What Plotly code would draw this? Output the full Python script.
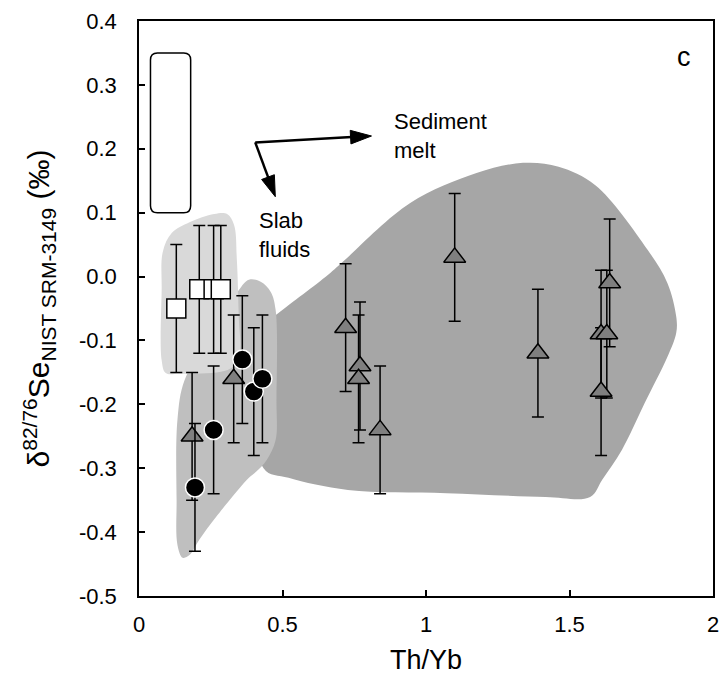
import plotly.graph_objects as go

# ---- data ----
sq_x = [0.13, 0.21, 0.26, 0.285]
sq_y = [-0.05, -0.02, -0.02, -0.02]
sq_err = [0.10, 0.10, 0.10, 0.10]

tri_x = [0.185, 0.33, 0.72, 0.77, 0.765, 0.84, 1.10, 1.39, 1.61, 1.63, 1.64, 1.61]
tri_y = [-0.25, -0.16, -0.08, -0.14, -0.16, -0.24, 0.03, -0.12, -0.09, -0.09, -0.01, -0.18]
tri_err = [0.10] * 12

cir_x = [0.195, 0.26, 0.36, 0.40, 0.43]
cir_y = [-0.33, -0.24, -0.13, -0.18, -0.16]
cir_err = [0.10, 0.10, 0.10, 0.10, 0.10]

# shaded fields (outline points in data units)
light_x = [0.083, 0.114, 0.176, 0.262, 0.307, 0.331, 0.341, 0.348, 0.352, 0.334, 0.297, 0.141, 0.093, 0.079, 0.079]
light_y = [0.039, 0.068, 0.085, 0.098, 0.098, 0.081, 0.026, -0.068, -0.115, -0.138, -0.148, -0.152, -0.151, -0.131, -0.021]

med_x = [0.348, 0.383, 0.424, 0.459, 0.476, 0.479, 0.476, 0.445, 0.407, 0.383, 0.269, 0.210, 0.176, 0.152, 0.134, 0.131, 0.134, 0.159, 0.245]
med_y = [-0.021, -0.005, -0.008, -0.024, -0.052, -0.193, -0.256, -0.287, -0.306, -0.315, -0.376, -0.412, -0.436, -0.440, -0.420, -0.350, -0.224, -0.162, -0.099]

dark_x = [0.434, 0.486, 0.659, 0.717, 0.945, 1.176, 1.338, 1.462, 1.590, 1.772, 1.841, 1.872, 1.872, 1.841, 1.762, 1.683, 1.614, 1.572, 1.417, 1.072, 0.728, 0.521, 0.434]
dark_y = [-0.076, -0.057, 0.003, 0.026, 0.115, 0.162, 0.178, 0.172, 0.143, 0.042, -0.010, -0.063, -0.088, -0.126, -0.198, -0.271, -0.318, -0.345, -0.345, -0.339, -0.334, -0.315, -0.300]

# open range box
box_x = [0.04, 0.18]
box_y = [0.10, 0.35]

# arrows
arrow_corner = [0.405, 0.21]
sediment_tip = [0.81, 0.22]
slab_tip = [0.475, 0.125]

x_ticks = [0, 0.5, 1, 1.5, 2]
y_ticks = [0.4, 0.3, 0.2, 0.1, 0.0, -0.1, -0.2, -0.3, -0.4, -0.5]

FONT = "Liberation Sans, Arial, sans-serif"

fig = go.Figure()

for xs, ys, col in [(dark_x, dark_y, "#a6a6a6"), (med_x, med_y, "#bfbfbf"), (light_x, light_y, "#d9d9d9")]:
    fig.add_trace(go.Scatter(
        x=xs + [xs[0]], y=ys + [ys[0]], mode="lines", fill="toself",
        fillcolor=col, line=dict(color=col, width=0, shape="spline", smoothing=1.0),
        hoverinfo="skip", showlegend=False))

err_style = dict(type="data", color="black", thickness=1.5, width=6)

fig.add_trace(go.Scatter(
    x=sq_x, y=sq_y, mode="markers", showlegend=False,
    error_y=dict(array=sq_err, **err_style),
    marker=dict(symbol="square", size=19, color="white", line=dict(color="black", width=1.5))))

fig.add_trace(go.Scatter(
    x=tri_x, y=tri_y, mode="markers", showlegend=False,
    error_y=dict(array=tri_err, **err_style),
    marker=dict(symbol="triangle-up", size=19, color="#7f7f7f", line=dict(color="black", width=1.5))))

fig.add_trace(go.Scatter(
    x=cir_x, y=cir_y, mode="markers", showlegend=False,
    error_y=dict(array=cir_err, **err_style),
    marker=dict(symbol="circle", size=19, color="black", line=dict(color="white", width=1.5))))

# arrows (line + arrow-head marker at the tip)
for tip in (sediment_tip, slab_tip):
    fig.add_trace(go.Scatter(
        x=[arrow_corner[0], tip[0]], y=[arrow_corner[1], tip[1]],
        mode="lines+markers", showlegend=False, hoverinfo="skip",
        line=dict(color="black", width=2.5),
        marker=dict(symbol="arrow", size=[0, 22], angleref="previous",
                    color="black", opacity=1, line=dict(color="black", width=1))))

# rounded box
rx, ry = 0.024, 0.011
x0, x1 = box_x
y0, y1 = box_y
path = (f"M {x0+rx},{y0} L {x1-rx},{y0} Q {x1},{y0} {x1},{y0+ry} "
        f"L {x1},{y1-ry} Q {x1},{y1} {x1-rx},{y1} L {x0+rx},{y1} "
        f"Q {x0},{y1} {x0},{y1-ry} L {x0},{y0+ry} Q {x0},{y0} {x0+rx},{y0} Z")
fig.add_shape(type="path", path=path, line=dict(color="black", width=1.5), fillcolor="white")

fig.add_annotation(x=0.883, y=0.22, xref="x", yref="y", text="Sediment<br>melt",
                   showarrow=False, xanchor="left", yanchor="middle", align="left",
                   font=dict(family=FONT, size=22, color="black"))
fig.add_annotation(x=0.41, y=0.065, xref="x", yref="y", text="Slab<br>fluids",
                   showarrow=False, xanchor="left", yanchor="middle", align="left",
                   font=dict(family=FONT, size=22, color="black"))
fig.add_annotation(x=1.9, y=0.344, xref="x", yref="y", text="c",
                   showarrow=False, xanchor="center", yanchor="middle",
                   font=dict(family=FONT, size=27, color="black"))

fig.update_layout(
    width=728, height=683,
    margin=dict(l=139, r=9, t=21, b=87),
    paper_bgcolor="white", plot_bgcolor="white",
    font=dict(family=FONT, color="black"),
    showlegend=False,
)
fig.update_xaxes(
    range=[0, 2], tickvals=x_ticks, ticktext=[f"{v:g}" for v in x_ticks],
    showline=True, mirror=True, linecolor="black", linewidth=1.5,
    ticks="inside", ticklen=6, tickwidth=1.5, tickcolor="black",
    showgrid=False, zeroline=False, ticklabelstandoff=8,
    tickfont=dict(family=FONT, size=22, color="black"),
    title=dict(text="Th/Yb", font=dict(family=FONT, size=27, color="black"), standoff=14),
)
fig.update_yaxes(
    range=[-0.5, 0.4], tickvals=y_ticks, ticktext=[f"{v:.1f}" for v in y_ticks],
    showline=True, mirror=True, linecolor="black", linewidth=1.5,
    ticks="inside", ticklen=6, tickwidth=1.5, tickcolor="black",
    showgrid=False, zeroline=False, ticklabelstandoff=16,
    tickfont=dict(family=FONT, size=22, color="black"),
    title=dict(text="δ<sup>82/76</sup>Se<sub>NIST SRM-3149</sub> (‰)",
               font=dict(family=FONT, size=30, color="black"), standoff=20),
)

fig.write_html("out.html")
